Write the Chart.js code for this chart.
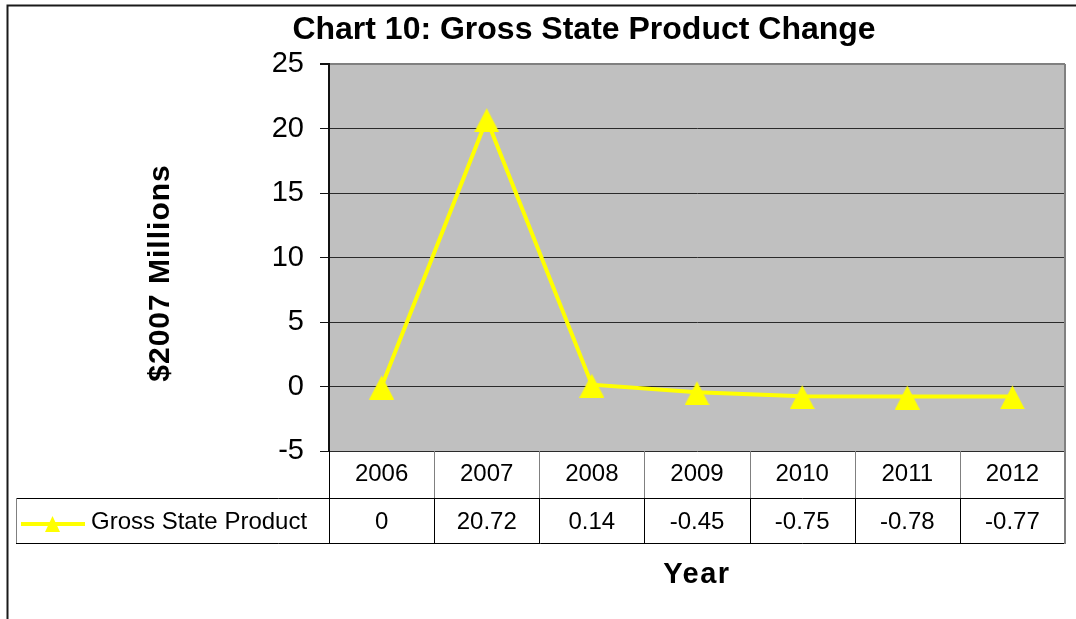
<!DOCTYPE html>
<html>
<head>
<meta charset="utf-8">
<title>Chart 10: Gross State Product Change</title>
<script src="https://cdn.jsdelivr.net/npm/chart.js@4.4.1/dist/chart.umd.min.js"></script>
<style>
  html, body { margin: 0; padding: 0; background: #fff; overflow: hidden; }
  #wrap { position: relative; width: 1076px; height: 619px; }
  #gspChart { display: block; }
</style>
</head>
<body>
<div id="wrap"><canvas id="gspChart"></canvas></div>
<script>
// --- Data ---
const years = ['2006', '2007', '2008', '2009', '2010', '2011', '2012'];
const gspChange = [0, 20.72, 0.14, -0.45, -0.75, -0.78, -0.77];
const seriesName = 'Gross State Product';
const yRange = [-5, 25];
const yStep = 5;

const chartTitle = 'Chart 10: Gross State Product Change';
const yTitle = '$2007 Millions';
const xTitle = 'Year';

// --- Styles ---
const FONT = '"Liberation Sans", Arial, Helvetica, sans-serif';
const YELLOW = '#FFFF00';
const PLOT_BG = '#C0C0C0';
const GRID = '#2a2a2a';
const SOFT_EDGE = '#808080';

// triangle marker, slightly taller than equilateral and sitting low on the point
function triangleMarker(w, h, apexY, baseY) {
  const c = document.createElement('canvas');
  c.width = w;
  c.height = h;
  const g = c.getContext('2d');
  g.fillStyle = YELLOW;
  g.beginPath();
  g.moveTo(w / 2, apexY);
  g.lineTo(w, baseY);
  g.lineTo(0, baseY);
  g.closePath();
  g.fill();
  return c;
}
const marker = triangleMarker(25, 26, 2, 26);

// --- Frame, plot background and loose text ---
const framePlugin = {
  id: 'frame',
  beforeDraw(chart) {
    const { ctx, chartArea: a } = chart;
    ctx.save();
    ctx.fillStyle = '#fff';
    ctx.fillRect(0, 0, chart.width, chart.height);

    // outer chart border (only the top and left edges fall inside the view)
    ctx.strokeStyle = '#1a1a1a';
    ctx.lineWidth = 2;
    ctx.beginPath();
    ctx.moveTo(7.5, chart.height);
    ctx.lineTo(7.5, 5.5);
    ctx.lineTo(chart.width, 5.5);
    ctx.stroke();

    ctx.fillStyle = PLOT_BG;
    ctx.fillRect(a.left, a.top, a.right - a.left, a.bottom - a.top);
    ctx.restore();
  },
  afterDraw(chart) {
    const { ctx, chartArea: a } = chart;
    ctx.save();
    // right edge of the plot area
    ctx.strokeStyle = SOFT_EDGE;
    ctx.lineWidth = 2;
    ctx.beginPath();
    ctx.moveTo(a.right, a.top);
    ctx.lineTo(a.right, a.bottom);
    ctx.stroke();

    ctx.fillStyle = '#000';
    ctx.textAlign = 'center';
    ctx.textBaseline = 'alphabetic';
    ctx.font = `bold 32px ${FONT}`;
    ctx.fillText(chartTitle, 584, 39);

    ctx.font = `bold 29px ${FONT}`;
    ctx.letterSpacing = '1.5px';
    ctx.fillText(xTitle, (a.left + a.right) / 2, 583);

    ctx.letterSpacing = '1px';
    ctx.font = `bold 30px ${FONT}`;
    ctx.translate(169, 273);
    ctx.rotate(-Math.PI / 2);
    ctx.fillText(yTitle, 0, 0);
    ctx.restore();
  }
};

// --- Data table under the plot ---
const tablePlugin = {
  id: 'dataTable',
  afterDraw(chart) {
    const { ctx, chartArea: a } = chart;
    const x = chart.scales.x;
    const top = a.bottom;
    const mid = top + 47;
    const bot = mid + 45;
    const legendLeft = 16;

    ctx.save();
    ctx.lineWidth = 1;

    // column separators
    years.forEach((_, i) => {
      const px = Math.round(x.getPixelForValue(i + 0.5)) + 0.5;
      if (i === years.length - 1) return;
      ctx.strokeStyle = SOFT_EDGE;
      ctx.beginPath();
      ctx.moveTo(px, top);
      ctx.lineTo(px, mid);
      ctx.stroke();
      ctx.strokeStyle = '#000';
      ctx.beginPath();
      ctx.moveTo(px, mid);
      ctx.lineTo(px, bot);
      ctx.stroke();
    });

    // plot left edge continues down through the table
    ctx.strokeStyle = '#000';
    ctx.beginPath();
    ctx.moveTo(a.left + 0.5, top);
    ctx.lineTo(a.left + 0.5, bot);
    ctx.stroke();

    // row rules
    ctx.beginPath();
    ctx.moveTo(legendLeft, mid + 0.5);
    ctx.lineTo(a.right, mid + 0.5);
    ctx.moveTo(legendLeft, bot + 0.5);
    ctx.lineTo(a.right, bot + 0.5);
    ctx.stroke();

    ctx.strokeStyle = SOFT_EDGE;
    ctx.lineWidth = 2;
    ctx.beginPath();
    ctx.moveTo(a.right, top);
    ctx.lineTo(a.right, bot + 1);
    ctx.stroke();
    ctx.lineWidth = 1;
    ctx.beginPath();
    ctx.moveTo(legendLeft + 0.5, mid);
    ctx.lineTo(legendLeft + 0.5, bot);
    ctx.stroke();

    // cell text
    ctx.fillStyle = '#000';
    ctx.font = `24px ${FONT}`;
    ctx.textAlign = 'center';
    ctx.textBaseline = 'middle';
    years.forEach((yr, i) => {
      const cx = x.getPixelForValue(i);
      ctx.fillText(yr, cx, top + 23);
      ctx.fillText(String(gspChange[i]), cx, mid + 24);
    });

    // series key
    const ky = mid + 26;
    ctx.strokeStyle = YELLOW;
    ctx.lineWidth = 4;
    ctx.beginPath();
    ctx.moveTo(21, ky);
    ctx.lineTo(85, ky);
    ctx.stroke();
    ctx.fillStyle = YELLOW;
    ctx.beginPath();
    ctx.moveTo(52.5, ky - 8);
    ctx.lineTo(60, ky + 8);
    ctx.lineTo(45, ky + 8);
    ctx.closePath();
    ctx.fill();

    ctx.fillStyle = '#000';
    ctx.textAlign = 'left';
    ctx.fillText(seriesName, 91, ky - 2);
    ctx.restore();
  }
};

new Chart(document.getElementById('gspChart'), {
  type: 'line',
  data: {
    labels: years,
    datasets: [{
      label: seriesName,
      data: gspChange,
      borderColor: YELLOW,
      backgroundColor: YELLOW,
      borderWidth: 4,
      tension: 0,
      pointStyle: marker,
      pointRadius: 13,
      pointHoverRadius: 13,
    }],
  },
  options: {
    responsive: true,
    maintainAspectRatio: false,
    animation: false,
    events: [],
    layout: {
      autoPadding: false,
      padding: { left: 0, top: 64, right: 11, bottom: 168 },
    },
    scales: {
      x: {
        display: false,
        offset: true,
      },
      y: {
        min: yRange[0],
        max: yRange[1],
        afterFit(scale) { scale.width = 329; },
        border: { display: true, color: '#111', width: 2 },
        grid: {
          color: (c) => (c.tick && c.tick.value === yRange[1] ? SOFT_EDGE : GRID),
          lineWidth: (c) => (c.tick && c.tick.value === yRange[1] ? 2 : 1),
          tickColor: '#111',
          tickLength: 9,
        },
        ticks: {
          stepSize: yStep,
          padding: 16,
          color: '#000',
          font: { family: FONT, size: 29 },
        },
      },
    },
    plugins: {
      legend: { display: false },
      title: { display: false },
      tooltip: { enabled: false },
    },
  },
  plugins: [framePlugin, tablePlugin],
});
</script>
</body>
</html>
